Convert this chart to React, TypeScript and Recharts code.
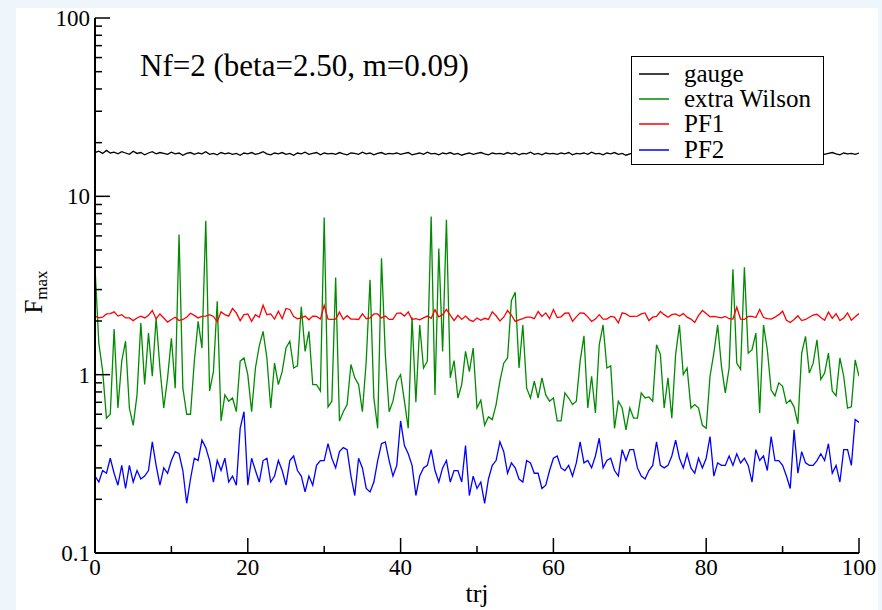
import React from 'react';
import { LineChart, Line, XAxis, YAxis, Legend } from 'recharts';

// F_max values sampled every 0.5 trajectory units (x = 0 .. 100)
const GAUGE = [
  17.6, 17.9, 17.4, 18.1, 17.5, 17.7, 17.3, 17.8, 17.5, 17.2, 17.9, 17.4, 17.6, 17.1, 17.5, 17.8, 17.3, 17.6, 17.4, 17.2,
  17.7, 17.3, 17.5, 17.0, 17.4, 17.6, 17.2, 17.5, 17.3, 17.8, 17.2, 17.4, 17.1, 17.6, 17.3, 17.5, 17.2, 17.4, 17.0, 17.5, 17.3,
  17.6, 17.2, 17.4, 17.8, 17.3, 17.1, 17.5, 17.3, 17.6, 17.2, 17.4, 17.0, 17.5, 17.3, 17.7, 17.2, 17.4, 17.6, 17.1, 17.5,
  17.3, 17.4, 17.2, 17.6, 17.3, 17.1, 17.5, 17.4, 17.2, 17.7, 17.3, 17.5, 17.1, 17.4, 17.6, 17.2, 17.4, 17.3, 17.5, 17.2,
  17.4, 17.6, 17.1, 17.3, 17.5, 17.2, 17.7, 17.3, 17.4, 17.1, 17.5, 17.3, 17.6, 17.2, 17.4, 17.0, 17.3, 17.5, 17.2, 17.4,
  17.6, 17.3, 17.1, 17.5, 17.3, 17.4, 17.2, 17.6, 17.3, 17.5, 17.1, 17.4, 17.3, 17.7, 17.2, 17.4, 17.1, 17.5, 17.3, 17.4,
  17.2, 17.5, 17.3, 17.6, 17.1, 17.4, 17.3, 17.5, 17.2, 17.7, 17.3, 17.4, 17.1, 17.5, 17.3, 17.6, 17.2, 17.4, 17.0, 17.3,
  17.5, 17.2, 17.6, 17.3, 17.4, 17.1, 17.5, 17.8, 17.2, 17.4, 17.3, 17.6, 17.2, 17.5, 17.3, 17.1, 17.4, 17.6, 17.3, 17.5,
  17.2, 17.4, 17.7, 17.3, 17.5, 17.1, 17.4, 17.6, 17.3, 17.2, 17.5, 17.3, 17.6, 17.1, 17.4, 17.3, 17.7, 17.2, 17.5, 17.3,
  17.4, 17.0, 17.5, 17.3, 17.6, 17.2, 17.4, 17.8, 17.3, 17.5, 17.2, 17.4, 17.6, 17.3, 17.1, 17.5, 17.3, 17.4, 17.2, 17.5,
];

const EXTRA_WILSON = [
  4.0, 1.5, 1.05, 0.57, 0.6, 1.8, 0.65, 1.19, 1.54, 0.65, 0.52, 0.77, 1.95, 0.88, 1.71, 0.98, 2.08, 1.09, 0.65, 0.96,
  1.6, 0.84, 6.1, 0.84, 0.6, 0.6, 1.19, 1.99, 1.41, 7.3, 0.81, 1.04, 2.58, 0.55, 0.77, 0.71, 0.74, 0.62, 1.19, 1.24, 1.0,
  0.62, 1.09, 1.45, 1.75, 1.24, 0.65, 1.16, 0.88, 1.04, 1.41, 1.54, 1.09, 1.12, 2.4, 1.35, 1.75, 0.88, 0.88, 0.81, 7.6,
  0.66, 0.71, 3.5, 0.55, 0.62, 0.68, 1.14, 0.96, 0.88, 0.62, 1.19, 3.4, 0.74, 0.5, 4.5, 1.3, 0.62, 0.71, 0.92, 1.0,
  0.71, 0.5, 2.1, 0.7, 1.9, 1.09, 1.19, 7.7, 0.77, 5.1, 1.35, 7.4, 0.96, 1.2, 0.74, 0.88, 1.35, 1.04, 1.41, 0.65,
  0.72, 0.52, 0.58, 0.56, 0.68, 0.92, 1.16, 1.24, 2.6, 2.9, 1.09, 1.9, 0.84, 0.74, 0.92, 0.74, 0.96, 0.77, 0.71, 0.74,
  0.55, 0.55, 0.79, 0.74, 0.68, 0.71, 1.19, 1.65, 0.65, 0.98, 0.61, 1.47, 1.9, 1.09, 1.12, 0.5, 0.71, 0.65, 0.49, 0.65,
  0.57, 0.57, 0.79, 0.74, 0.75, 0.71, 1.47, 1.3, 0.65, 0.96, 0.57, 1.3, 1.9, 1.0, 1.09, 0.65, 0.68, 0.65, 0.52, 0.5,
  0.98, 1.32, 1.9, 1.11, 0.79, 1.09, 3.9, 1.16, 1.07, 4.0, 1.32, 1.38, 1.71, 0.61, 1.9, 1.38, 0.82, 0.76, 0.9, 0.86,
  0.69, 0.72, 0.66, 0.53, 1.32, 1.64, 1.02, 1.16, 1.57, 0.94, 1.02, 1.32, 0.81, 0.76, 1.24, 0.98, 0.65, 0.66, 1.21, 0.98,
];

const PF1 = [
  2.13, 2.08, 2.10, 2.19, 2.2, 2.25, 2.13, 2.17, 2.08, 2.08, 2.01, 2.08, 2.13, 2.08, 2.15, 2.29, 2.06, 2.19, 2.08, 1.97,
  2.04, 2.10, 2.01, 2.04, 2.10, 2.21, 2.15, 2.08, 2.12, 2.13, 2.17, 2.12, 1.98, 2.25, 2.17, 2.13, 2.35, 2.22, 2.01, 2.17, 2.19,
  1.99, 2.17, 2.10, 2.45, 2.17, 2.19, 2.05, 2.27, 2.06, 2.35, 2.32, 2.12, 2.06, 2.08, 2.13, 2.03, 2.13, 2.12, 2.05, 2.45,
  2.05, 2.04, 2.05, 2.24, 2.04, 2.14, 2.05, 2.05, 2.04, 2.19, 2.06, 2.08, 2.19, 2.19, 2.08, 2.13, 2.04, 2.04, 2.21, 2.22,
  2.13, 2.25, 2.04, 2.06, 2.03, 2.08, 2.13, 2.07, 2.31, 2.11, 2.17, 2.32, 2.16, 2.01, 2.15, 2.04, 2.13, 2.03, 1.99, 2.08,
  2.02, 2.07, 2.04, 2.25, 2.14, 2.00, 2.10, 2.29, 2.16, 1.99, 2.03, 2.06, 2.10, 2.10, 2.06, 2.26, 2.12, 2.22, 2.06, 2.32,
  2.09, 2.11, 2.21, 2.22, 1.99, 2.11, 2.22, 2.21, 2.11, 1.99, 2.05, 2.17, 2.05, 2.05, 2.12, 2.10, 1.95, 2.22, 2.19, 2.12,
  2.12, 2.13, 2.19, 2.22, 2.01, 2.10, 2.12, 2.26, 2.17, 2.10, 2.17, 2.19, 2.13, 2.20, 2.10, 2.05, 1.96, 2.15, 2.29, 2.20,
  2.11, 2.12, 2.10, 2.08, 2.12, 2.06, 2.05, 2.39, 2.05, 2.04, 2.12, 2.12, 2.09, 2.32, 2.09, 2.06, 2.05, 2.10, 2.17, 2.27,
  2.02, 1.96, 2.04, 2.14, 2.01, 2.04, 2.10, 2.16, 2.18, 2.09, 2.02, 2.24, 2.07, 2.20, 2.01, 2.08, 2.22, 2.02, 2.11, 2.20,
];

const PF2 = [
  0.27, 0.25, 0.29, 0.28, 0.34, 0.28, 0.24, 0.31, 0.23, 0.31, 0.25, 0.29, 0.26, 0.27, 0.29, 0.42, 0.31, 0.24, 0.30, 0.28,
  0.33, 0.37, 0.36, 0.29, 0.19, 0.26, 0.34, 0.33, 0.43, 0.39, 0.33, 0.25, 0.33, 0.29, 0.34, 0.25, 0.27, 0.24, 0.5, 0.62, 0.24,
  0.34, 0.29, 0.25, 0.33, 0.34, 0.25, 0.27, 0.33, 0.29, 0.24, 0.33, 0.35, 0.29, 0.27, 0.22, 0.27, 0.24, 0.31, 0.33, 0.33,
  0.41, 0.34, 0.30, 0.37, 0.39, 0.38, 0.27, 0.21, 0.34, 0.30, 0.23, 0.22, 0.25, 0.33, 0.41, 0.42, 0.33, 0.27, 0.31, 0.55,
  0.40, 0.36, 0.31, 0.21, 0.27, 0.30, 0.31, 0.38, 0.29, 0.25, 0.30, 0.33, 0.25, 0.29, 0.29, 0.25, 0.40, 0.21, 0.27, 0.23,
  0.25, 0.19, 0.26, 0.31, 0.33, 0.42, 0.37, 0.28, 0.32, 0.30, 0.26, 0.25, 0.33, 0.32, 0.28, 0.28, 0.23, 0.24, 0.29, 0.34,
  0.35, 0.30, 0.29, 0.31, 0.27, 0.32, 0.42, 0.32, 0.33, 0.30, 0.35, 0.44, 0.30, 0.33, 0.34, 0.29, 0.27, 0.38, 0.33, 0.38,
  0.38, 0.30, 0.27, 0.26, 0.29, 0.31, 0.42, 0.31, 0.30, 0.31, 0.35, 0.43, 0.34, 0.30, 0.36, 0.30, 0.28, 0.34, 0.30, 0.34,
  0.45, 0.27, 0.32, 0.31, 0.31, 0.35, 0.31, 0.36, 0.32, 0.34, 0.31, 0.25, 0.38, 0.33, 0.35, 0.29, 0.45, 0.33, 0.33, 0.31,
  0.27, 0.23, 0.49, 0.28, 0.37, 0.32, 0.31, 0.31, 0.33, 0.36, 0.33, 0.41, 0.28, 0.31, 0.25, 0.38, 0.38, 0.31, 0.56, 0.54,
];

const TRJ_STEP = 0.5;

const X_TICKS = [0, 10, 20, 30, 40, 50, 60, 70, 80, 90, 100];
const X_LABELED = [0, 20, 40, 60, 80, 100];
const Y_TICKS = [
  0.1, 0.2, 0.3, 0.4, 0.5, 0.6, 0.7, 0.8, 0.9,
  1, 2, 3, 4, 5, 6, 7, 8, 9,
  10, 20, 30, 40, 50, 60, 70, 80, 90, 100,
];
const Y_LABELED = [0.1, 1, 10, 100];

const TITLE = 'Nf=2 (beta=2.50, m=0.09)';
const X_LABEL = 'trj';

const SERIES = [
  { key: 'gauge', name: 'gauge', color: '#000000' },
  { key: 'wilson', name: 'extra Wilson', color: '#008b00' },
  { key: 'pf1', name: 'PF1', color: '#ff0000' },
  { key: 'pf2', name: 'PF2', color: '#0000ff' },
];

const data = GAUGE.map((g, i) => ({
  trj: i * TRJ_STEP,
  gauge: g,
  wilson: EXTRA_WILSON[i],
  pf1: PF1[i],
  pf2: PF2[i],
}));

const FONT = 'Liberation Serif, Times New Roman, serif';
const TICK_FONT = 23;
const MAJOR = 15;
const MINOR = 7;

const LeftTick = (props: any) => {
  const { x, y, payload } = props;
  const v = payload.value;
  const major = Y_LABELED.includes(v);
  return (
    <g>
      <line x1={x} y1={y} x2={x + (major ? MAJOR : MINOR)} y2={y} stroke="#000" strokeWidth={1.5} />
      {major && (
        <text x={x - 5} y={y} dy="0.35em" textAnchor="end" fontFamily={FONT} fontSize={TICK_FONT} fill="#000">
          {String(v)}
        </text>
      )}
    </g>
  );
};

const RightTick = (props: any) => {
  const { x, y, payload } = props;
  const major = Y_LABELED.includes(payload.value);
  return <line x1={x} y1={y} x2={x - (major ? MAJOR : MINOR)} y2={y} stroke="#000" strokeWidth={1.5} />;
};

const BottomTick = (props: any) => {
  const { x, y, payload } = props;
  const v = payload.value;
  const major = X_LABELED.includes(v);
  return (
    <g>
      <line x1={x} y1={y} x2={x} y2={y - (major ? MAJOR : MINOR)} stroke="#000" strokeWidth={1.5} />
      {major && (
        <text x={x} y={y + 22} textAnchor="middle" fontFamily={FONT} fontSize={TICK_FONT} fill="#000">
          {String(v)}
        </text>
      )}
    </g>
  );
};

const TopTick = (props: any) => {
  const { x, y, payload } = props;
  const major = X_LABELED.includes(payload.value);
  return <line x1={x} y1={y} x2={x} y2={y + (major ? MAJOR : MINOR)} stroke="#000" strokeWidth={1.5} />;
};

const renderLegend = (props: any) => {
  const payload: any[] = (props && props.payload) || [];
  const items = SERIES.map((s) => {
    const p = payload.find((q: any) => q.dataKey === s.key || q.value === s.name);
    return { name: s.name, color: (p && p.color) || s.color };
  });
  return (
    <div
      style={{
        width: 193,
        height: 109,
        boxSizing: 'border-box',
        border: '1.5px solid #000',
        background: '#fff',
        fontFamily: FONT,
        fontSize: 25,
        paddingTop: 4,
        color: '#000',
      }}
    >
      {items.map((it) => (
        <div key={it.name} style={{ display: 'flex', alignItems: 'center', height: 25.3 }}>
          <svg width={52} height={10} style={{ flex: 'none' }}>
            <line x1={7} y1={5} x2={37} y2={5} stroke={it.color} strokeWidth={1.5} />
          </svg>
          <span style={{ whiteSpace: 'nowrap', display: 'inline-block', height: 22, lineHeight: '22px' }}>{it.name}</span>
        </div>
      ))}
    </div>
  );
};

export default function App() {
  return (
    <div style={{ position: 'absolute', left: 0, top: 0, width: 882, height: 610, background: '#eef6fc', overflow: 'hidden' }}>
      <div style={{ position: 'absolute', left: 16, top: 8, width: 862, height: 602, background: '#ffffff' }} />
      <div style={{ position: 'absolute', left: 0, top: 0 }}>
        <LineChart width={882} height={610} data={data} margin={{ top: 18, right: 23, bottom: 0, left: 0 }}>
          <XAxis
            dataKey="trj"
            type="number"
            domain={[0, 100]}
            ticks={X_TICKS}
            interval={0}
            height={57}
            tickSize={0}
            tickMargin={0}
            tickLine={false}
            axisLine={{ stroke: '#000', strokeWidth: 2 }}
            tick={<BottomTick />}
            allowDataOverflow
          />
          <XAxis
            xAxisId="top"
            orientation="top"
            type="number"
            domain={[0, 100]}
            ticks={X_TICKS}
            interval={0}
            height={0}
            tickSize={0}
            tickMargin={0}
            tickLine={false}
            axisLine={{ stroke: '#000', strokeWidth: 2 }}
            tick={<TopTick />}
            allowDataOverflow
          />
          <YAxis
            type="number"
            scale="log"
            domain={[0.1, 100]}
            ticks={Y_TICKS}
            interval={0}
            width={95}
            tickSize={0}
            tickMargin={0}
            tickLine={false}
            axisLine={{ stroke: '#000', strokeWidth: 2 }}
            tick={<LeftTick />}
            allowDataOverflow
          />
          <YAxis
            yAxisId="right"
            orientation="right"
            type="number"
            scale="log"
            domain={[0.1, 100]}
            ticks={Y_TICKS}
            interval={0}
            width={0}
            tickSize={0}
            tickMargin={0}
            tickLine={false}
            axisLine={{ stroke: '#000', strokeWidth: 2 }}
            tick={<RightTick />}
            allowDataOverflow
          />
          {SERIES.map((s) => (
            <Line
              key={s.key}
              type="linear"
              dataKey={s.key}
              name={s.name}
              stroke={s.color}
              strokeWidth={1.3}
              dot={false}
              activeDot={false}
              isAnimationActive={false}
            />
          ))}
          <Legend
            layout="vertical"
            align="center"
            verticalAlign="middle"
            content={renderLegend}
            wrapperStyle={{ position: 'absolute', left: 631, top: 56, width: 193, height: 109 }}
          />
        </LineChart>
      </div>
      <svg width={882} height={610} style={{ position: 'absolute', left: 0, top: 0, pointerEvents: 'none' }}>
        <text x={140} y={76} fontFamily={FONT} fontSize={31} fill="#000">
          {TITLE}
        </text>
        <text x={477} y={602} textAnchor="middle" fontFamily={FONT} fontSize={26} fill="#000">
          {X_LABEL}
        </text>
        <text transform="translate(42,292) rotate(-90)" textAnchor="middle" fontFamily={FONT} fontSize={25} fill="#000">
          F
          <tspan fontSize={17} dy={5}>
            max
          </tspan>
        </text>
      </svg>
    </div>
  );
}
